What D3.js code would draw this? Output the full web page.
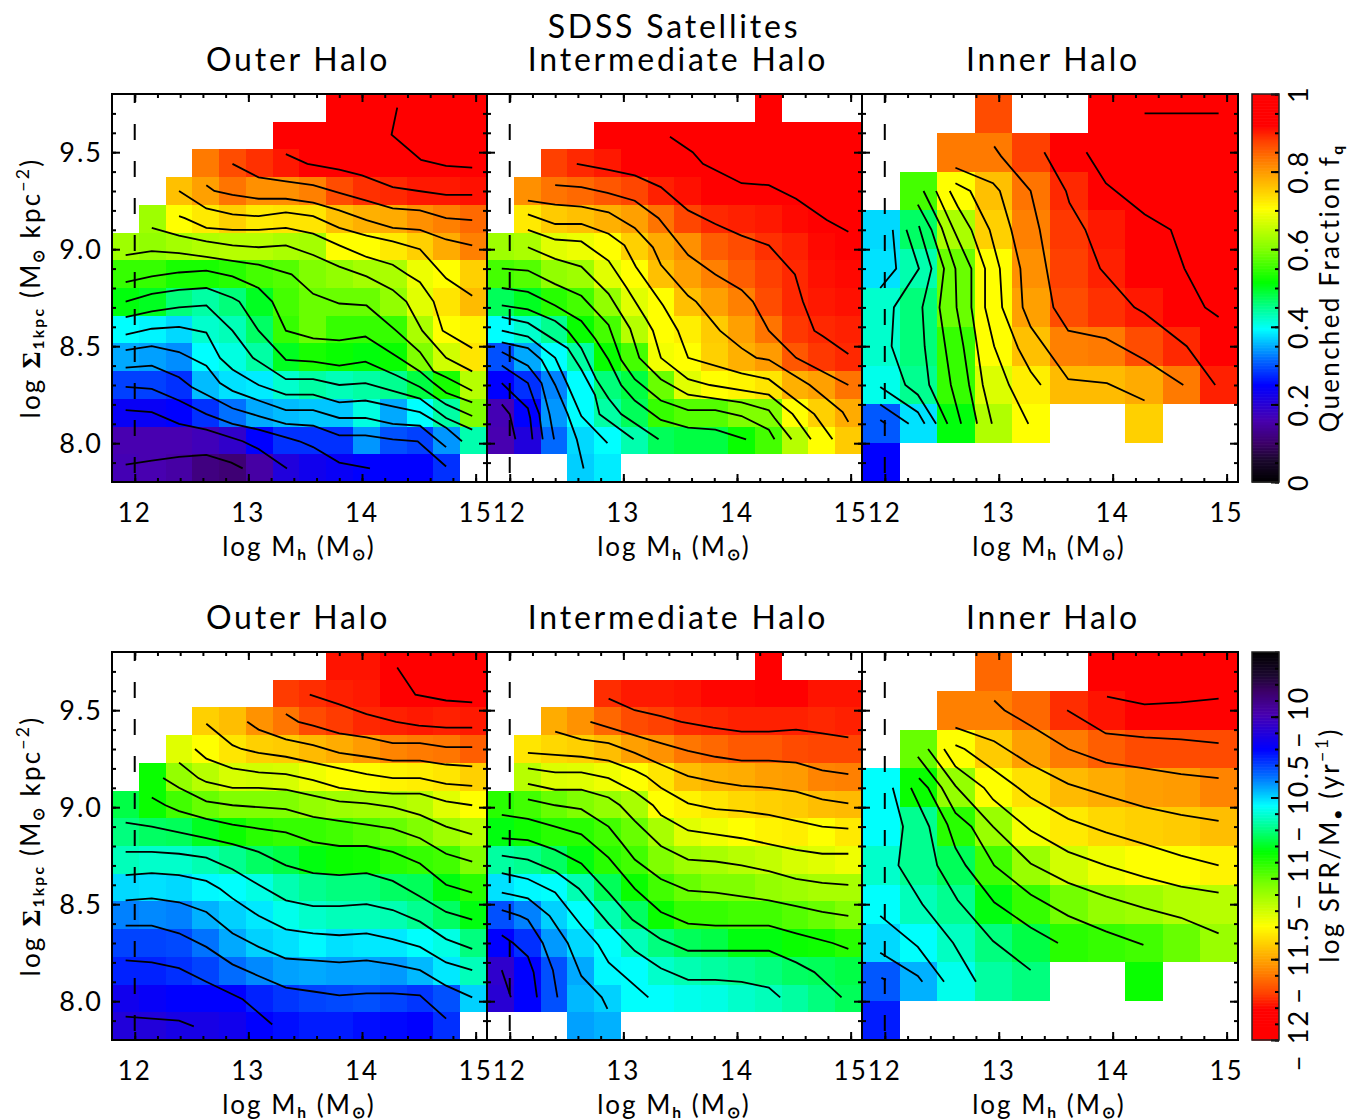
<!DOCTYPE html>
<html>
<head>
<meta charset="utf-8">
<script src="https://cdnjs.cloudflare.com/ajax/libs/d3/7.8.5/d3.min.js"></script>
<style>
  body { margin: 0; background: #fff; }
  text { font-family: Lato, "Open Sans", sans-serif; font-weight: 400; fill: #000; }
</style>
</head>
<body>
<svg id="chart" width="1363" height="1120"></svg>
<script>
var _ = null;

var massTicks = [12, 13, 14, 15];
var sigmaTicks = [8.0, 8.5, 9.0, 9.5];
var panelTitles = ["Outer Halo", "Intermediate Halo", "Inner Halo"];

// colour table, position 0..1 along the bar
var rainbowStops = [0, 0.06, 0.1, 0.16, 0.25, 0.32, 0.395, 0.45, 0.515, 0.6, 0.705, 0.765, 0.825, 0.88, 0.92, 1];
var rainbowColors = ["#000000", "#1c0830", "#3c0068", "#4800b0", "#0000ff", "#0070ff", "#00ffff", "#00ff90", "#00ff00",
    "#80ff00", "#ffff00", "#ffc000", "#ff8000", "#ff4000", "#ff0000", "#ff0000"];

// quenched fraction, rows from the top of the panel down
var qOuter = [
    [_, _, _, _, _, _, _, _, .97, .97, .97, .97, .97, .97],
    [_, _, _, _, _, _, .95, .95, .97, .97, .97, .97, .97, .97],
    [_, _, _, .83, .87, .89, .905, .93, .95, .95, .95, .95, .95, .95],
    [_, _, .765, .795, .835, .81, .81, .825, .87, .89, .895, .905, .905, .91],
    [_, .625, .705, .725, .75, .725, .73, .73, .765, .78, .785, .81, .825, .845],
    [.625, .615, .63, .64, .645, .645, .635, .63, .705, .705, .725, .75, .785, .825],
    [.55, .55, .53, .53, .54, .56, .57, .6, .615, .63, .635, .69, .705, .75],
    [.51, .5, .46, .44, .46, .5, .56, .585, .585, .585, .615, .68, .73, .77],
    [.395, .39, .375, .42, .43, .47, .55, .585, .55, .55, .55, .635, .705, .715],
    [.35, .345, .335, .395, .41, .44, .5, .53, .52, .51, .52, .6, .665, .73],
    [.29, .29, .28, .36, .38, .385, .42, .44, .43, .44, .45, .485, .53, .645],
    [.24, .24, .25, .28, .32, .35, .36, .365, .365, .41, .35, .395, .44, .6],
    [.16, .16, .16, .17, .19, .25, .28, .28, .28, .34, .3, .29, .34, .435],
    [.165, .16, .15, .12, .11, .15, .21, .23, .24, .25, .25, .25, .28, _]
];
var qInter = [
    [_, _, _, _, _, _, _, _, _, _, .97, _, _, _],
    [_, _, _, _, .95, .95, .95, .97, .97, .97, .97, .97, .97, .97],
    [_, _, .88, .895, .905, .93, .93, .95, .95, .95, .95, .95, .95, .95],
    [_, .81, .835, .845, .86, .875, .9, .91, .93, .93, .93, .95, .95, .95],
    [_, .725, .755, .765, .78, .795, .835, .875, .895, .9, .905, .915, .93, .93],
    [.625, .635, .68, .69, .705, .75, .785, .81, .855, .87, .89, .9, .915, .93],
    [.56, .57, .615, .625, .68, .705, .765, .795, .825, .855, .88, .895, .91, .915],
    [.475, .5, .54, .56, .615, .68, .705, .765, .795, .825, .87, .895, .905, .91],
    [.395, .42, .45, .52, .56, .645, .705, .72, .755, .795, .835, .885, .895, .9],
    [.3, .35, .395, .44, .52, .56, .695, .705, .75, .78, .8, .86, .885, .895],
    [.25, .28, .33, .395, .46, .485, .585, .68, .705, .715, .73, .78, .795, .835],
    [.165, .25, .34, .395, .44, .475, .55, .57, .57, .6, .6, .705, .75, .785],
    [.16, .21, .315, .375, .395, .435, .475, .485, .485, .52, .56, .645, .705, .755],
    [_, _, _, .37, .385, _, _, _, _, _, _, _, _, _]
];
var qInner = [
    [_, _, _, .87, _, _, .97, .97, .97, .97],
    [_, _, .83, .83, .88, .95, .97, .97, .97, .97],
    [_, .56, .705, .765, .835, .895, .93, .95, .97, .97],
    [.375, .47, .635, .75, .825, .885, .905, .93, .95, .97],
    [.38, .435, .585, .705, .81, .88, .9, .93, .95, .95],
    [.42, .46, .585, .705, .795, .87, .89, .905, .93, .95],
    [.42, .46, .55, .705, .765, .825, .83, .87, .895, .93],
    [.405, .45, .55, .675, .72, .77, .77, .785, .83, .9],
    [.305, .38, .51, .64, .705, _, _, .75, _, _],
    [.25, _, _, _, _, _, _, _, _, _]
];

// log SFR/M*, rows from the top of the panel down
var sfrOuter = [
    [_, _, _, _, _, _, _, _, -11.78, -11.78, -11.85, -11.85, -11.85, -11.85],
    [_, _, _, _, _, _, -11.72, -11.74, -11.76, -11.77, -11.85, -11.85, -11.85, -11.85],
    [_, _, _, -11.40, -11.44, -11.54, -11.60, -11.69, -11.72, -11.75, -11.76, -11.77, -11.76, -11.77],
    [_, _, -11.23, -11.29, -11.35, -11.40, -11.41, -11.45, -11.48, -11.52, -11.57, -11.59, -11.60, -11.65],
    [_, -10.85, -11.08, -11.15, -11.21, -11.20, -11.21, -11.26, -11.29, -11.29, -11.32, -11.33, -11.35, -11.40],
    [-10.76, -10.85, -10.94, -11.00, -11.04, -11.04, -11.04, -11.08, -11.10, -11.11, -11.12, -11.15, -11.23, -11.29],
    [-10.70, -10.73, -10.74, -10.80, -10.85, -10.90, -10.92, -10.92, -10.94, -10.97, -11.00, -11.04, -11.10, -11.15],
    [-10.63, -10.61, -10.61, -10.64, -10.68, -10.73, -10.76, -10.82, -10.85, -10.86, -10.90, -10.92, -10.94, -11.04],
    [-10.50, -10.51, -10.50, -10.54, -10.55, -10.58, -10.64, -10.68, -10.70, -10.70, -10.73, -10.74, -10.82, -10.90],
    [-10.39, -10.40, -10.39, -10.45, -10.49, -10.52, -10.57, -10.61, -10.63, -10.63, -10.64, -10.68, -10.73, -10.82],
    [-10.30, -10.30, -10.31, -10.37, -10.44, -10.49, -10.51, -10.54, -10.51, -10.52, -10.52, -10.55, -10.58, -10.70],
    [-10.25, -10.25, -10.27, -10.30, -10.36, -10.40, -10.43, -10.44, -10.43, -10.43, -10.42, -10.46, -10.52, -10.63],
    [-10.15, -10.18, -10.20, -10.20, -10.20, -10.25, -10.28, -10.30, -10.31, -10.32, -10.30, -10.28, -10.32, -10.49],
    [-10.10, -10.10, -10.13, -10.13, -10.15, -10.20, -10.22, -10.24, -10.24, -10.22, -10.21, -10.20, -10.27, _]
];
var sfrInter = [
    [_, _, _, _, _, _, _, _, _, _, -11.85, _, _, _],
    [_, _, _, _, -11.74, -11.77, -11.77, -11.78, -11.80, -11.80, -11.85, -11.85, -11.78, -11.78],
    [_, _, -11.48, -11.54, -11.63, -11.69, -11.71, -11.74, -11.75, -11.76, -11.76, -11.76, -11.75, -11.76],
    [_, -11.35, -11.38, -11.40, -11.44, -11.51, -11.54, -11.60, -11.63, -11.66, -11.66, -11.69, -11.70, -11.70],
    [_, -11.15, -11.22, -11.23, -11.26, -11.29, -11.35, -11.44, -11.47, -11.48, -11.51, -11.52, -11.57, -11.58],
    [-10.90, -10.94, -11.00, -11.04, -11.08, -11.12, -11.29, -11.32, -11.35, -11.38, -11.40, -11.41, -11.44, -11.45],
    [-10.82, -10.86, -10.90, -10.90, -10.94, -11.00, -11.12, -11.23, -11.26, -11.29, -11.32, -11.33, -11.29, -11.34],
    [-10.66, -10.68, -10.73, -10.82, -10.90, -10.94, -11.04, -11.10, -11.12, -11.15, -11.17, -11.21, -11.23, -11.26],
    [-10.51, -10.54, -10.55, -10.64, -10.74, -10.85, -10.94, -11.00, -11.04, -11.04, -11.08, -11.10, -11.12, -11.12],
    [-10.32, -10.39, -10.49, -10.55, -10.64, -10.73, -10.85, -10.92, -10.92, -10.94, -10.94, -10.97, -11.00, -11.04],
    [-10.20, -10.27, -10.42, -10.50, -10.55, -10.63, -10.70, -10.74, -10.76, -10.82, -10.82, -10.85, -10.86, -10.90],
    [-10.06, -10.20, -10.32, -10.44, -10.54, -10.55, -10.61, -10.64, -10.66, -10.68, -10.70, -10.73, -10.74, -10.76],
    [-10.08, -10.20, -10.32, -10.46, -10.49, -10.55, -10.55, -10.57, -10.58, -10.61, -10.63, -10.66, -10.70, -10.74],
    [_, _, _, -10.43, -10.45, _, _, _, _, _, _, _, _, _]
];
var sfrInner = [
    [_, _, _, -11.63, _, _, -11.85, -11.85, -11.85, -11.85],
    [_, _, -11.58, -11.58, -11.63, -11.74, -11.78, -11.85, -11.85, -11.85],
    [_, -11.00, -11.29, -11.41, -11.51, -11.59, -11.65, -11.69, -11.69, -11.69],
    [-10.55, -10.85, -11.08, -11.29, -11.36, -11.45, -11.48, -11.51, -11.52, -11.57],
    [-10.55, -10.68, -10.90, -11.09, -11.27, -11.34, -11.38, -11.40, -11.41, -11.44],
    [-10.61, -10.68, -10.74, -10.94, -11.09, -11.20, -11.26, -11.29, -11.29, -11.32],
    [-10.55, -10.63, -10.68, -10.82, -10.92, -11.02, -11.08, -11.10, -11.14, -11.15],
    [-10.50, -10.55, -10.62, -10.70, -10.76, -10.90, -10.92, -10.94, -11.00, -11.09],
    [-10.33, -10.45, -10.57, -10.66, -10.70, _, _, -10.85, _, _],
    [-10.24, _, _, _, _, _, _, _, _, _]
];

// contours: [log Mh, log Sigma] vertices
var qOuterLines = [
    [[14.31,9.73],[14.26,9.59],[14.52,9.46],[14.74,9.43],[14.97,9.42]],
    [[13.33,9.49],[13.52,9.44],[13.80,9.41],[14.00,9.38],[14.27,9.32],[14.50,9.30],[14.74,9.28],[14.97,9.28]],
    [[12.86,9.44],[13.09,9.37],[13.33,9.35],[13.57,9.33],[13.80,9.29],[14.04,9.25],[14.27,9.21],[14.51,9.20],[14.74,9.16],[14.97,9.15]],
    [[12.63,9.33],[12.70,9.30],[12.86,9.28],[13.09,9.26],[13.33,9.26],[13.57,9.24],[13.80,9.20],[14.04,9.15],[14.27,9.11],[14.51,9.10],[14.74,9.05],[14.97,9.02]],
    [[12.39,9.30],[12.63,9.21],[12.86,9.18],[13.09,9.17],[13.33,9.19],[13.57,9.17],[13.80,9.11],[14.04,9.07],[14.27,9.04],[14.51,9.00],[14.74,8.85],[14.97,8.76]],
    [[12.39,9.17],[12.44,9.16],[12.63,9.11],[12.86,9.10],[13.09,9.10],[13.33,9.11],[13.57,9.08],[13.80,9.02],[14.04,8.96],[14.27,8.92],[14.40,8.87],[14.51,8.83],[14.63,8.73],[14.71,8.58],[14.97,8.49]],
    [[12.15,9.11],[12.39,9.07],[12.63,9.04],[12.86,9.02],[13.09,9.01],[13.33,9.02],[13.57,8.97],[13.80,8.91],[14.04,8.86],[14.27,8.79],[14.39,8.73],[14.53,8.58],[14.74,8.44],[14.97,8.37]],
    [[11.92,8.97],[12.15,8.99],[12.39,8.98],[12.63,8.96],[12.86,8.94],[13.09,8.92],[13.38,8.87],[13.57,8.77],[13.80,8.72],[14.04,8.71],[14.30,8.58],[14.51,8.47],[14.63,8.37],[14.74,8.34],[14.97,8.27]],
    [[11.92,8.83],[12.15,8.86],[12.39,8.88],[12.63,8.89],[12.86,8.86],[13.09,8.80],[13.21,8.73],[13.33,8.58],[13.57,8.54],[13.80,8.53],[14.03,8.55],[14.30,8.45],[14.51,8.37],[14.63,8.31],[14.74,8.26],[14.97,8.21]],
    [[11.92,8.73],[12.15,8.77],[12.39,8.79],[12.63,8.80],[12.86,8.75],[12.92,8.73],[13.09,8.58],[13.33,8.43],[13.57,8.42],[13.80,8.40],[14.03,8.42],[14.30,8.35],[14.51,8.29],[14.74,8.20],[14.97,8.14]],
    [[11.92,8.65],[12.15,8.68],[12.39,8.70],[12.63,8.71],[12.86,8.58],[13.04,8.44],[13.33,8.33],[13.57,8.33],[13.80,8.30],[14.03,8.31],[14.27,8.27],[14.51,8.23],[14.74,8.13],[14.97,8.07]],
    [[11.92,8.56],[12.15,8.59],[12.39,8.60],[12.63,8.57],[12.75,8.44],[12.86,8.38],[13.09,8.30],[13.33,8.25],[13.57,8.25],[13.80,8.21],[14.03,8.22],[14.27,8.19],[14.51,8.16],[14.74,8.08],[14.88,8.01]],
    [[11.92,8.48],[12.15,8.50],[12.39,8.47],[12.63,8.40],[12.75,8.31],[12.86,8.27],[13.09,8.22],[13.33,8.17],[13.57,8.17],[13.80,8.13],[14.03,8.13],[14.27,8.10],[14.51,8.09],[14.74,7.98]],
    [[11.92,8.39],[12.15,8.40],[12.39,8.34],[12.50,8.29],[12.73,8.22],[12.86,8.18],[13.09,8.14],[13.33,8.10],[13.57,8.09],[13.80,8.04],[14.03,8.04],[14.27,8.02],[14.49,8.01],[14.74,7.88]],
    [[11.92,8.29],[12.15,8.28],[12.39,8.22],[12.63,8.15],[12.86,8.10],[13.09,8.07],[13.33,8.03],[13.45,8.01],[13.57,7.98],[13.80,7.90],[14.07,7.87]],
    [[11.92,8.17],[12.15,8.16],[12.39,8.10],[12.63,8.07],[12.95,8.01],[13.09,7.97],[13.34,7.87]],
    [[11.92,7.89],[12.15,7.91],[12.39,7.93],[12.63,7.94],[12.85,7.90],[12.95,7.87]]
];
var qInterLines = [
    [[13.41,9.58],[13.61,9.50],[13.70,9.44],[14.04,9.34],[14.28,9.33],[14.52,9.26],[14.79,9.15],[14.98,9.09]],
    [[12.59,9.44],[12.86,9.41],[13.10,9.38],[13.33,9.32],[13.57,9.20],[13.81,9.13],[14.04,9.07],[14.28,9.02],[14.51,8.87],[14.58,8.73],[14.68,8.58],[14.76,8.55],[14.98,8.46]],
    [[12.40,9.33],[12.63,9.32],[12.86,9.29],[13.10,9.25],[13.31,9.16],[13.57,8.97],[13.81,8.87],[14.04,8.79],[14.14,8.73],[14.28,8.58],[14.52,8.44],[14.98,8.30]],
    [[12.16,9.25],[12.40,9.23],[12.63,9.22],[12.87,9.19],[13.10,9.11],[13.26,9.01],[13.33,8.92],[13.57,8.76],[13.64,8.73],[13.85,8.58],[14.04,8.49],[14.17,8.44],[14.28,8.43],[14.64,8.30],[14.93,8.16],[14.98,8.11]],
    [[12.16,9.18],[12.40,9.13],[12.63,9.13],[12.87,9.08],[13.01,9.02],[13.11,8.91],[13.35,8.71],[13.48,8.58],[13.57,8.44],[14.04,8.36],[14.28,8.33],[14.68,8.15],[14.84,8.02]],
    [[12.16,9.10],[12.40,9.05],[12.63,9.04],[12.87,8.94],[13.03,8.80],[13.20,8.64],[13.26,8.58],[13.33,8.44],[13.57,8.33],[13.76,8.30],[14.28,8.25],[14.49,8.15],[14.65,8.02]],
    [[12.16,9.01],[12.40,8.95],[12.63,8.91],[12.87,8.77],[13.06,8.59],[13.14,8.44],[13.33,8.33],[13.57,8.25],[13.81,8.23],[14.04,8.21],[14.28,8.17],[14.33,8.13],[14.48,8.02]],
    [[11.93,8.90],[12.16,8.89],[12.40,8.82],[12.63,8.76],[12.87,8.61],[12.98,8.43],[13.10,8.33],[13.33,8.22],[13.57,8.17],[13.81,8.17],[14.04,8.14],[14.28,8.07],[14.33,8.02]],
    [[11.93,8.80],[12.16,8.78],[12.40,8.71],[12.63,8.63],[12.75,8.54],[12.87,8.43],[12.98,8.30],[13.10,8.22],[13.33,8.12],[13.57,8.08],[13.81,8.07],[14.08,8.02]],
    [[11.93,8.71],[12.16,8.69],[12.40,8.63],[12.51,8.58],[12.63,8.49],[12.76,8.33],[12.87,8.23],[12.98,8.15],[13.31,8.02]],
    [[11.93,8.65],[12.16,8.62],[12.40,8.53],[12.51,8.49],[12.63,8.38],[12.75,8.25],[12.79,8.15],[13.09,8.02]],
    [[11.93,8.58],[12.16,8.55],[12.40,8.44],[12.51,8.30],[12.63,8.14],[12.86,8.00]],
    [[11.93,8.52],[12.16,8.49],[12.28,8.43],[12.40,8.30],[12.51,8.15],[12.59,8.02],[12.65,7.87]],
    [[11.93,8.47],[12.03,8.44],[12.16,8.40],[12.28,8.31],[12.35,8.15],[12.39,8.02]],
    [[11.93,8.40],[12.16,8.31],[12.22,8.21],[12.26,8.15],[12.29,8.02]],
    [[11.93,8.31],[12.00,8.27],[12.16,8.18],[12.18,8.13],[12.20,8.02]],
    [[11.93,8.20],[12.00,8.15],[12.05,8.02]]
];
var qInnerLines = [
    [[14.28,9.70],[14.93,9.70]],
    [[13.77,9.50],[13.94,9.34],[14.28,9.18],[14.51,9.10],[14.63,8.90],[14.81,8.70],[14.93,8.65]],
    [[13.40,9.50],[13.59,9.30],[13.62,9.24],[13.76,9.10],[13.89,8.90],[14.19,8.70],[14.28,8.67],[14.65,8.50],[14.90,8.30]],
    [[12.96,9.53],[13.02,9.48],[13.28,9.30],[13.36,9.10],[13.42,8.90],[13.48,8.70],[13.61,8.58],[13.94,8.54],[14.28,8.43],[14.62,8.30]],
    [[12.62,9.42],[12.95,9.34],[13.01,9.30],[13.11,9.10],[13.19,8.90],[13.21,8.70],[13.28,8.60],[13.61,8.33],[13.95,8.31],[14.28,8.22]],
    [[12.62,9.34],[12.75,9.30],[12.92,9.10],[13.01,8.90],[13.03,8.70],[13.17,8.49],[13.28,8.37],[13.37,8.30]],
    [[12.57,9.30],[12.64,9.22],[12.76,9.10],[12.88,8.90],[12.88,8.70],[12.96,8.50],[13.09,8.30],[13.26,8.10]],
    [[12.45,9.30],[12.62,9.08],[12.76,8.90],[12.76,8.70],[12.81,8.50],[12.86,8.30],[12.94,8.10]],
    [[12.34,9.30],[12.50,9.11],[12.62,8.90],[12.63,8.70],[12.69,8.50],[12.74,8.30],[12.81,8.10]],
    [[12.29,9.23],[12.41,9.10],[12.52,8.90],[12.48,8.70],[12.53,8.50],[12.58,8.30],[12.67,8.10]],
    [[12.30,9.12],[12.41,8.90],[12.33,8.70],[12.35,8.50],[12.39,8.30],[12.55,8.10]],
    [[12.19,9.10],[12.30,8.90],[12.08,8.70],[12.06,8.50],[12.18,8.30],[12.29,8.25],[12.45,8.10]],
    [[12.07,9.10],[12.10,8.90],[11.96,8.80]],
    [[11.96,8.29],[12.29,8.16],[12.35,8.10]],
    [[11.96,8.20],[12.21,8.10]],
    [[11.96,8.12],[12.01,8.10]]
];
var sfrOuterLines = [
    [[14.31,9.72],[14.47,9.58],[14.74,9.55],[14.97,9.54]],
    [[13.54,9.58],[13.80,9.53],[14.04,9.48],[14.30,9.44],[14.50,9.42],[14.74,9.41],[14.97,9.41]],
    [[13.33,9.48],[13.44,9.44],[13.57,9.42],[13.80,9.38],[14.04,9.36],[14.27,9.33],[14.51,9.33],[14.74,9.31],[14.97,9.31]],
    [[12.99,9.44],[13.09,9.40],[13.33,9.35],[13.57,9.32],[13.80,9.28],[14.04,9.26],[14.27,9.24],[14.51,9.24],[14.74,9.22],[14.97,9.21]],
    [[12.63,9.43],[12.86,9.32],[12.94,9.30],[13.09,9.28],[13.33,9.26],[13.57,9.23],[13.80,9.20],[14.04,9.17],[14.27,9.15],[14.51,9.15],[14.74,9.12],[14.97,9.11]],
    [[12.53,9.30],[12.63,9.25],[12.86,9.20],[13.09,9.18],[13.33,9.17],[13.57,9.14],[13.80,9.10],[14.04,9.08],[14.27,9.07],[14.51,9.07],[14.74,9.03],[14.97,9.01]],
    [[12.39,9.23],[12.56,9.15],[12.63,9.13],[12.86,9.10],[13.09,9.10],[13.33,9.09],[13.57,9.06],[13.80,9.03],[14.04,9.02],[14.27,9.00],[14.51,8.96],[14.74,8.90],[14.97,8.86]],
    [[12.25,9.15],[12.39,9.10],[12.63,9.03],[12.86,9.01],[13.09,9.00],[13.33,8.99],[13.57,8.95],[13.80,8.93],[14.04,8.91],[14.27,8.89],[14.51,8.84],[14.74,8.76],[14.97,8.72]],
    [[12.15,9.05],[12.27,9.01],[12.39,8.98],[12.63,8.94],[12.86,8.91],[13.09,8.89],[13.33,8.87],[13.57,8.82],[13.80,8.80],[14.04,8.80],[14.27,8.77],[14.51,8.71],[14.74,8.60],[14.97,8.56]],
    [[11.92,8.92],[12.15,8.90],[12.39,8.87],[12.63,8.84],[12.86,8.81],[13.09,8.77],[13.33,8.70],[13.57,8.66],[13.80,8.65],[14.04,8.66],[14.27,8.62],[14.51,8.54],[14.74,8.46],[14.97,8.42]],
    [[11.92,8.77],[12.15,8.77],[12.39,8.76],[12.63,8.74],[12.86,8.68],[13.09,8.60],[13.33,8.52],[13.57,8.49],[13.80,8.49],[14.04,8.50],[14.27,8.47],[14.51,8.41],[14.74,8.32],[14.97,8.27]],
    [[11.92,8.65],[12.15,8.66],[12.39,8.65],[12.63,8.62],[12.75,8.58],[12.86,8.53],[13.09,8.44],[13.33,8.37],[13.57,8.35],[13.80,8.34],[14.04,8.35],[14.27,8.32],[14.51,8.28],[14.74,8.20],[14.97,8.16]],
    [[11.92,8.52],[12.15,8.53],[12.39,8.51],[12.63,8.46],[12.86,8.35],[13.09,8.28],[13.33,8.22],[13.57,8.21],[13.80,8.20],[14.04,8.21],[14.27,8.19],[14.51,8.16],[14.74,8.08],[14.97,8.02]],
    [[11.92,8.39],[12.15,8.39],[12.39,8.35],[12.63,8.28],[12.86,8.19],[13.09,8.13],[13.33,8.07],[13.57,8.05],[13.80,8.03],[14.04,8.04],[14.27,8.04],[14.51,8.03],[14.74,7.91]],
    [[11.92,8.21],[12.15,8.20],[12.39,8.17],[12.63,8.10],[12.95,8.01],[13.21,7.88]],
    [[11.92,7.92],[12.39,7.90],[12.52,7.87]]
];
var sfrInterLines = [
    [[12.87,9.56],[13.10,9.50],[13.33,9.47],[13.51,9.44],[13.79,9.41],[14.04,9.39],[14.28,9.39],[14.52,9.40],[14.75,9.38],[14.98,9.36]],
    [[12.71,9.44],[13.10,9.37],[13.33,9.33],[13.57,9.29],[13.81,9.26],[14.04,9.24],[14.28,9.24],[14.52,9.23],[14.75,9.19],[14.98,9.17]],
    [[12.40,9.39],[12.63,9.35],[12.87,9.33],[13.10,9.28],[13.33,9.22],[13.57,9.16],[13.81,9.13],[14.04,9.11],[14.28,9.10],[14.52,9.08],[14.75,9.04],[14.98,9.02]],
    [[12.16,9.28],[12.40,9.27],[12.63,9.26],[12.87,9.24],[13.10,9.19],[13.20,9.16],[13.33,9.10],[13.57,9.02],[13.81,8.99],[14.04,8.98],[14.28,8.96],[14.52,8.93],[14.75,8.90],[14.98,8.89]],
    [[12.16,9.20],[12.40,9.18],[12.63,9.18],[12.87,9.15],[13.10,9.08],[13.26,9.01],[13.33,8.96],[13.57,8.88],[13.81,8.86],[14.04,8.84],[14.28,8.81],[14.52,8.78],[14.75,8.76],[14.98,8.76]],
    [[12.16,9.12],[12.40,9.09],[12.63,9.09],[12.87,9.05],[12.97,9.01],[13.10,8.93],[13.33,8.80],[13.57,8.73],[13.81,8.72],[14.04,8.70],[14.28,8.67],[14.52,8.63],[14.75,8.61],[14.98,8.60]],
    [[12.16,9.04],[12.40,9.01],[12.63,8.99],[12.87,8.90],[12.98,8.82],[13.10,8.73],[13.33,8.63],[13.57,8.57],[13.81,8.56],[14.04,8.54],[14.28,8.52],[14.52,8.49],[14.75,8.46],[14.98,8.44]],
    [[11.93,8.96],[12.16,8.94],[12.40,8.90],[12.63,8.86],[12.87,8.74],[13.10,8.58],[13.33,8.46],[13.57,8.40],[13.81,8.39],[14.04,8.39],[14.28,8.39],[14.52,8.35],[14.84,8.30],[14.98,8.27]],
    [[11.93,8.84],[12.16,8.83],[12.40,8.78],[12.63,8.71],[12.87,8.56],[13.08,8.42],[13.33,8.32],[13.57,8.26],[13.81,8.26],[14.04,8.26],[14.28,8.26],[14.52,8.20],[14.68,8.15],[14.92,8.02]],
    [[11.93,8.75],[12.16,8.73],[12.40,8.67],[12.61,8.58],[12.87,8.40],[13.10,8.26],[13.33,8.17],[13.57,8.11],[13.81,8.11],[14.04,8.10],[14.28,8.07],[14.38,8.02]],
    [[11.93,8.66],[12.16,8.63],[12.40,8.56],[12.63,8.39],[12.78,8.29],[12.87,8.20],[13.22,8.02]],
    [[11.93,8.56],[12.16,8.53],[12.35,8.44],[12.51,8.30],[12.63,8.13],[12.81,8.02],[12.86,7.96]],
    [[11.93,8.47],[12.09,8.44],[12.16,8.42],[12.29,8.30],[12.38,8.16],[12.42,8.02]],
    [[11.93,8.34],[12.03,8.30],[12.16,8.23],[12.21,8.15],[12.24,8.02]],
    [[11.93,8.16],[12.01,8.02]]
];
var sfrInnerLines = [
    [[13.95,9.57],[14.28,9.53],[14.60,9.54],[14.93,9.56]],
    [[13.60,9.50],[13.94,9.38],[14.28,9.36],[14.60,9.35],[14.93,9.33]],
    [[12.96,9.55],[13.05,9.50],[13.28,9.42],[13.61,9.30],[13.94,9.23],[14.28,9.20],[14.60,9.17],[14.93,9.15]],
    [[12.62,9.41],[12.96,9.34],[13.28,9.22],[13.61,9.12],[13.94,9.06],[14.28,9.00],[14.60,8.96],[14.93,8.93]],
    [[12.62,9.32],[12.70,9.30],[12.96,9.19],[13.17,9.10],[13.28,9.05],[13.61,8.94],[13.94,8.87],[14.28,8.81],[14.60,8.75],[14.93,8.70]],
    [[12.52,9.30],[12.62,9.21],[12.87,9.10],[12.95,9.04],[13.28,8.88],[13.61,8.77],[13.94,8.70],[14.28,8.64],[14.60,8.59],[14.93,8.56]],
    [[12.38,9.30],[12.62,9.11],[12.95,8.90],[13.28,8.71],[13.61,8.61],[13.94,8.54],[14.28,8.48],[14.60,8.43],[14.93,8.35]],
    [[12.29,9.26],[12.50,9.10],[12.62,8.97],[12.76,8.90],[12.96,8.70],[13.28,8.55],[13.61,8.44],[13.94,8.36],[14.27,8.29]],
    [[12.30,9.15],[12.38,9.10],[12.55,8.91],[12.62,8.79],[12.71,8.70],[12.96,8.51],[13.28,8.38],[13.52,8.30]],
    [[12.23,9.10],[12.39,8.90],[12.46,8.70],[12.64,8.52],[12.95,8.31],[13.28,8.16]],
    [[12.07,9.10],[12.16,8.90],[12.12,8.70],[12.33,8.50],[12.60,8.30],[12.80,8.10]],
    [[11.96,8.44],[12.29,8.28],[12.52,8.10]],
    [[11.96,8.25],[12.29,8.13],[12.33,8.10]],
    [[11.97,8.12],[12.01,8.11]]
];

var svg = d3.select("#chart");

var massExtent = [11.8, 15.1], sigmaExtent = [7.8, 9.8];
var columns = [[112, 487], [487, 862], [862, 1238]];
var rows = [[94, 482], [652, 1040]];
var titleCenters = [298, 678, 1053];
var labelCenters = [299, 674, 1049];

var rainbow = d3.scaleLinear().domain(rainbowStops).range(rainbowColors).clamp(true);
var sfrToBar = d3.scaleLinear().domain([-12, -9.6]).range([1, 0]);

function qColor(v) { return rainbow(v); }
function sfrColor(v) { return rainbow(sfrToBar(v)); }

var panels = [
    { col: 0, row: 0, grid: qOuter, lines: qOuterLines, color: qColor },
    { col: 1, row: 0, grid: qInter, lines: qInterLines, color: qColor },
    { col: 2, row: 0, grid: qInner, lines: qInnerLines, color: qColor },
    { col: 0, row: 1, grid: sfrOuter, lines: sfrOuterLines, color: sfrColor },
    { col: 1, row: 1, grid: sfrInter, lines: sfrInterLines, color: sfrColor },
    { col: 2, row: 1, grid: sfrInner, lines: sfrInnerLines, color: sfrColor }
];

// draws a text with optional sub/super parts, parts = [[string, style], ...]
function addParts(sel, parts) {
    parts.forEach(function (p) {
        var t = sel.append("tspan").text(p[0]);
        if (p[1] == "sub") t.attr("dy", 4).attr("font-size", "0.6em").style("font-weight", 700);
        if (p[1] == "back") t.attr("dy", -4);
        if (p[1] == "sup") t.attr("dy", -11).attr("font-size", "0.68em");
        if (p[1] == "down") t.attr("dy", 11);
        if (p[1] == "bold") t.style("font-family", "Liberation Serif").style("font-weight", 700);
    });
}

var massLabelParts = [["log M"], ["h", "sub"], [" (M", "back"], ["\u2299", "sub"], [")", "back"]];
var sigmaLabelParts = [["log "], ["\u03a3", "bold"], ["1kpc", "sub"], [" (M", "back"], ["\u2299", "sub"], [" kpc", "back"], ["\u22122", "sup"], [")", "down"]];

panels.forEach(function (p) {
    var x0 = columns[p.col][0], x1 = columns[p.col][1];
    var y0 = rows[p.row][0], y1 = rows[p.row][1];
    var x = d3.scaleLinear().domain(massExtent).range([x0, x1]);
    var y = d3.scaleLinear().domain(sigmaExtent).range([y1, y0]);
    var g = svg.append("g");

    // cells, the grid fills the whole frame
    var nRow = p.grid.length, nCol = p.grid[0].length;
    var dm = (massExtent[1] - massExtent[0]) / nCol, ds = (sigmaExtent[1] - sigmaExtent[0]) / nRow;
    var cells = [];
    p.grid.forEach(function (r, i) {
        r.forEach(function (v, j) { if (v !== null) cells.push({ i: i, j: j, v: v }); });
    });
    g.selectAll("rect.cell").data(cells).enter().append("rect")
        .attr("class", "cell")
        .attr("x", function (d) { return Math.round(x(massExtent[0] + d.j * dm)); })
        .attr("y", function (d) { return Math.round(y(sigmaExtent[1] - d.i * ds)); })
        .attr("width", function (d) { return Math.round(x(massExtent[0] + (d.j + 1) * dm)) - Math.round(x(massExtent[0] + d.j * dm)); })
        .attr("height", function (d) { return Math.round(y(sigmaExtent[1] - (d.i + 1) * ds)) - Math.round(y(sigmaExtent[1] - d.i * ds)); })
        .attr("fill", function (d) { return p.color(d.v); })
        .attr("shape-rendering", "crispEdges");

    // contours
    var line = d3.line().x(function (d) { return x(d[0]); }).y(function (d) { return y(d[1]); });
    g.selectAll("path.contour").data(p.lines).enter().append("path")
        .attr("class", "contour")
        .attr("d", line)
        .attr("fill", "none")
        .attr("stroke", "#000")
        .attr("stroke-width", 1.8);

    // long dashes at log Mh = 12
    g.append("line")
        .attr("x1", x(12)).attr("x2", x(12))
        .attr("y1", y0).attr("y2", y1)
        .attr("stroke", "#000").attr("stroke-width", 2)
        .attr("stroke-dasharray", "16 21").attr("stroke-dashoffset", 7);

    // ticks on all four sides
    var minorX = d3.range(12, 15.01, 0.2), minorY = d3.range(7.9, 9.75, 0.1);
    function axes(tickM, tickS, lenX, lenY) {
        g.append("g").attr("transform", "translate(0," + y1 + ")").call(d3.axisBottom(x).tickValues(tickM).tickSize(-lenX).tickFormat(""));
        g.append("g").attr("transform", "translate(0," + y0 + ")").call(d3.axisTop(x).tickValues(tickM).tickSize(-lenX).tickFormat(""));
        g.append("g").attr("transform", "translate(" + x0 + ",0)").call(d3.axisLeft(y).tickValues(tickS).tickSize(-lenY).tickFormat(""));
        g.append("g").attr("transform", "translate(" + x1 + ",0)").call(d3.axisRight(y).tickValues(tickS).tickSize(-lenY).tickFormat(""));
    }
    axes(minorX, minorY, 4, 4);
    axes(massTicks, sigmaTicks, 8, 8);
    g.selectAll(".domain").remove();
    g.selectAll(".tick line").attr("stroke", "#000").attr("stroke-width", 2);

    g.append("rect").attr("x", x0).attr("y", y0).attr("width", x1 - x0).attr("height", y1 - y0)
        .attr("fill", "none").attr("stroke", "#000").attr("stroke-width", 2);

    // tick labels and axis labels
    massTicks.forEach(function (m) {
        svg.append("text").attr("x", x(m)).attr("y", y1 + 40).attr("text-anchor", "middle")
            .attr("font-size", 26).attr("letter-spacing", 2).text(m);
    });
    addParts(svg.append("text").attr("x", labelCenters[p.col]).attr("y", y1 + 74).attr("text-anchor", "middle")
        .attr("font-size", 26).attr("letter-spacing", 2).attr("xml:space", "preserve"), massLabelParts);
    svg.append("text").attr("x", titleCenters[p.col]).attr("y", y0 - 23).attr("text-anchor", "middle")
        .attr("font-size", 32).attr("letter-spacing", 2.8).text(panelTitles[p.col]);

    if (p.col == 0) {
        sigmaTicks.forEach(function (s) {
            svg.append("text").attr("x", 103).attr("y", y(s) + 10).attr("text-anchor", "end")
                .attr("font-size", 27).attr("letter-spacing", 2).text(s.toFixed(1));
        });
        addParts(svg.append("text").attr("text-anchor", "middle")
            .attr("transform", "translate(40," + ((y0 + y1) / 2) + ") rotate(-90)")
            .attr("font-size", 26).attr("letter-spacing", 2.2).attr("xml:space", "preserve"), sigmaLabelParts);
    }
});

svg.append("text").attr("x", 674).attr("y", 38).attr("text-anchor", "middle")
    .attr("font-size", 32).attr("letter-spacing", 2.8).text("SDSS Satellites");

// colour bars
var barX = 1252, barW = 27;
var barLevels = d3.range(0, 256);

function colorBar(y0, y1, domain, ticks, minor, labels, colorOf) {
    var y = d3.scaleLinear().domain(domain).range([y1, y0]);
    var g = svg.append("g");
    g.selectAll("rect").data(barLevels).enter().append("rect")
        .attr("x", barX).attr("width", barW)
        .attr("y", function (d) { return y(domain[0] + (domain[1] - domain[0]) * (d + 1) / 256); })
        .attr("height", (y1 - y0) / 256 + 0.6)
        .attr("fill", function (d) { return colorOf(domain[0] + (domain[1] - domain[0]) * (d + 0.5) / 256); });
    g.append("g").attr("transform", "translate(" + (barX + barW) + ",0)").call(d3.axisRight(y).tickValues(minor).tickSize(-4).tickFormat(""));
    g.append("g").attr("transform", "translate(" + (barX + barW) + ",0)").call(d3.axisRight(y).tickValues(ticks).tickSize(-8).tickFormat(""));
    g.selectAll(".domain").remove();
    g.selectAll(".tick line").attr("stroke", "#000").attr("stroke-width", 2);
    g.append("rect").attr("x", barX).attr("y", y0).attr("width", barW).attr("height", y1 - y0)
        .attr("fill", "none").attr("stroke", "#222").attr("stroke-width", 1.5);
    ticks.forEach(function (t, i) {
        svg.append("text").attr("text-anchor", "middle")
            .attr("transform", "translate(1308," + y(t) + ") rotate(-90)")
            .attr("font-size", 27).attr("letter-spacing", 2.2).attr("xml:space", "preserve").text(labels[i]);
    });
}

colorBar(94, 482, [0, 1], [0, 0.2, 0.4, 0.6, 0.8, 1], d3.range(0, 1.001, 0.05), ["0", "0.2", "0.4", "0.6", "0.8", "1"], qColor);
colorBar(652, 1040, [-12, -9.6], [-12, -11.5, -11, -10.5, -10], d3.range(-12, -9.6, 0.1),
    ["\u2212 12", "\u2212 11.5", "\u2212 11", "\u2212 10.5", "\u2212 10"], sfrColor);

addParts(svg.append("text").attr("text-anchor", "middle")
    .attr("transform", "translate(1339,288) rotate(-90)")
    .attr("font-size", 26).attr("letter-spacing", 2.3).attr("xml:space", "preserve"), [["Quenched Fraction f"], ["q", "sub"]]);
addParts(svg.append("text").attr("text-anchor", "middle")
    .attr("transform", "translate(1339,845) rotate(-90)")
    .attr("font-size", 26).attr("letter-spacing", 2.4).attr("xml:space", "preserve"),
    [["log SFR/M"], ["\u2022", "sub"], [" (yr", "back"], ["\u22121", "sup"], [")", "down"]]);
</script>
</body>
</html>
